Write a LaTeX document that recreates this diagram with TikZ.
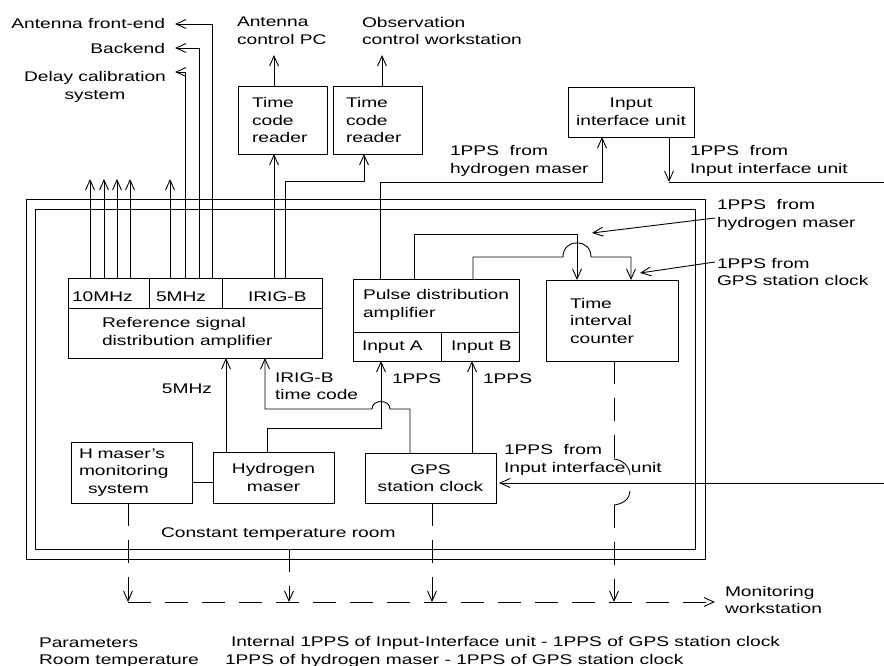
\documentclass[tikz,border=0pt]{standalone}
\usepackage{fontspec}
\setmainfont{Liberation Sans}[FakeStretch=1.37]
\usetikzlibrary{arrows.meta}
\begin{document}
\begin{tikzpicture}[x=1pt,y=-1pt,line width=0.9pt,
  every node/.style={font=\fontsize{14}{17.5}\selectfont, inner sep=0pt, outer sep=0pt},
  box/.style={draw, anchor=north west, align=left},
  txt/.style={align=left, anchor=west},
  arr/.style={-{Straight Barb[length=10pt,width=9pt]}},
  dsh/.style={dash pattern=on 23pt off 14pt}]
\useasboundingbox (0,0) rectangle (884,666);

% room walls
\node[draw, anchor=north west, minimum width=679pt, minimum height=360pt] (roomout) at (26,199) {};
\node[draw, anchor=north west, minimum width=660pt, minimum height=340pt] (roomin) at (35,209) {};

% top labels
\node[anchor=east] (lfront) at (165,23) {Antenna front-end};
\node[anchor=east] (lback) at (165,48) {Backend};
\node[align=center] (ldelay) at (95,87) {Delay calibration\\system};
\node[txt] (lacpc) at (237,31) {Antenna\\control PC};
\node[txt] (locw) at (362,31) {Observation\\control workstation};

% boxes
\node[box, inner xsep=14pt, text width=61pt, minimum height=68pt] (tcr1) at (238,86) {Time\\code\\reader};
\node[box, inner xsep=13pt, text width=63pt, minimum height=68pt] (tcr2) at (333,86) {Time\\code\\reader};
\node[box, align=center, minimum width=126pt, minimum height=50pt] (iiu) at (568,87) {Input\\interface unit};
\node[box, minimum width=254pt, minimum height=80pt] (ref) at (68,278) {};
\node[box, minimum width=166pt, minimum height=82pt] (pda) at (353,279) {};
\node[box, inner xsep=24pt, text width=84pt, minimum height=81pt] (tic) at (546,280) {Time\\interval\\counter};
\node[box, inner xsep=8pt, text width=105pt, minimum height=61pt] (hms) at (71,442) {H maser's\\monitoring\\\hspace*{9pt}system};
\node[box, align=center, minimum width=121pt, minimum height=51pt] (hm) at (213,452) {Hydrogen\\maser};
\node[box, align=center, minimum width=131pt, minimum height=50pt] (gps) at (365,453) {GPS\\station clock};

% reference amplifier sections
\draw (ref.west |- 0,308) -- (ref.east |- 0,308);
\draw (149,0 |- ref.north) -- (149,308);
\draw (222,0 |- ref.north) -- (222,308);
\node[txt] (t10) at (72,297) {10MHz};
\node[txt] (t5) at (156,297) {5MHz};
\node[txt] (tirig) at (248,297) {IRIG-B};
\node[txt] (tref) at (102,333) {Reference signal\\distribution amplifier};

% pulse distribution amplifier sections
\draw (pda.west |- 0,332) -- (pda.east |- 0,332);
\draw (441,332) -- (441,0 |- pda.south);
\node[txt] (tpda) at (363,305) {Pulse distribution\\amplifier};
\node[txt] (tina) at (362,347) {Input A};
\node[txt] (tinb) at (451,347) {Input B};

% outputs of reference amplifier
\foreach \x in {90,104,117,130,170} \draw[arr] (\x,0 |- ref.north) -- (\x,179);
\draw[arr] (185,0 |- ref.north) -- (185,72) -- (175,72);
\draw[arr] (199,0 |- ref.north) -- (199,48) -- (175,48);
\draw[arr] (212,0 |- ref.north) -- (212,24) -- (175,24);
\draw[arr] (274,0 |- ref.north) -- (274,0 |- tcr1.south);
\draw[arr] (285,0 |- ref.north) -- (285,181) -- (364,181) -- (364,0 |- tcr2.south);
\draw[arr] (274,0 |- tcr1.north) -- (274,55);
\draw[arr] (382,0 |- tcr2.north) -- (382,55);

% pulse distribution outputs
\draw[arr] (380,0 |- pda.north) -- (380,182) -- (602,182) -- (602,0 |- iiu.south);
\draw[arr] (669,0 |- iiu.south) -- (669,182);
\draw (669,182) -- (884,182);
\draw[arr] (414,0 |- pda.north) -- (414,234) -- (577,234) -- (577,0 |- tic.north);
\draw[arr] (473,0 |- pda.north) -- (473,257) -- (563,257) .. controls (563,238) and (591,238) .. (591,257) -- (631,257) -- (631,0 |- tic.north);
\node[txt] (lhm1) at (450,161) {1PPS\ \ from\\hydrogen maser};
\node[txt] (liiu1) at (690,161) {1PPS\ \ from\\Input interface unit};
\node[txt] (lhm2) at (717,215) {1PPS\ \ from\\hydrogen maser};
\node[txt] (lgps) at (717,272) {1PPS from\\GPS station clock};
\draw[arr] (715,218) -- (592,233);
\draw[arr] (715,262) -- (640,273);

% lower connections
\draw[arr] (226,0 |- hm.north) -- (226,0 |- ref.south);
\draw[arr] (267,0 |- hm.north) -- (267,428) -- (381,428) -- (381,0 |- pda.south);
\draw[arr] (410,0 |- gps.north) -- (410,409) -- (390,409) .. controls (390,399) and (372,399) .. (372,409) -- (265,409) -- (265,0 |- ref.south);
\draw[arr] (472,0 |- gps.north) -- (472,0 |- pda.south);
\draw (hms.east |- 0,482) -- (hm.west |- 0,482);
\draw[arr, shorten >=3pt] (884,483) -- (gps.east |- 0,483);
\node[anchor=east] (l5m) at (212,389) {5MHz};
\node[txt] (lirig) at (275,386) {IRIG-B\\time code};
\node[txt] (l1a) at (392,379) {1PPS};
\node[txt] (l1b) at (483,379) {1PPS};
\node[txt] (liiu3) at (504,460) {1PPS\ \ from\\Input interface unit};
\node[txt] (lroom) at (161,534) {Constant temperature room};

% monitoring (dashed)
\draw[dsh] (614,0 |- tic.south) -- (614,459);
\draw (614,459) .. controls (624,460) and (630,468) .. (630,475);
\draw (630,491) .. controls (630,498) and (624,504) .. (614,505);
\draw[dsh, arr] (614,505) -- (614,602);
\draw[dsh, arr] (128,0 |- hms.south) -- (128,602);
\draw[dsh, arr] (289,0 |- roomin.south) -- (289,602);
\draw[dsh, arr] (432,0 |- gps.south) -- (432,602);
\draw[dsh, arr] (128,602) -- (715,602);
\node[txt] (lmon) at (725,600) {Monitoring\\workstation};

% bottom legend
\node[txt] (lpar) at (39,643) {Parameters};
\node[txt] (lpar2) at (231,643) {Internal 1PPS of Input-Interface unit - 1PPS of GPS station clock};
\node[txt] (lrt) at (39,661) {Room temperature};
\node[txt] (lrt2) at (225,661) {1PPS of hydrogen maser - 1PPS of GPS station clock};
\end{tikzpicture}
\end{document}
